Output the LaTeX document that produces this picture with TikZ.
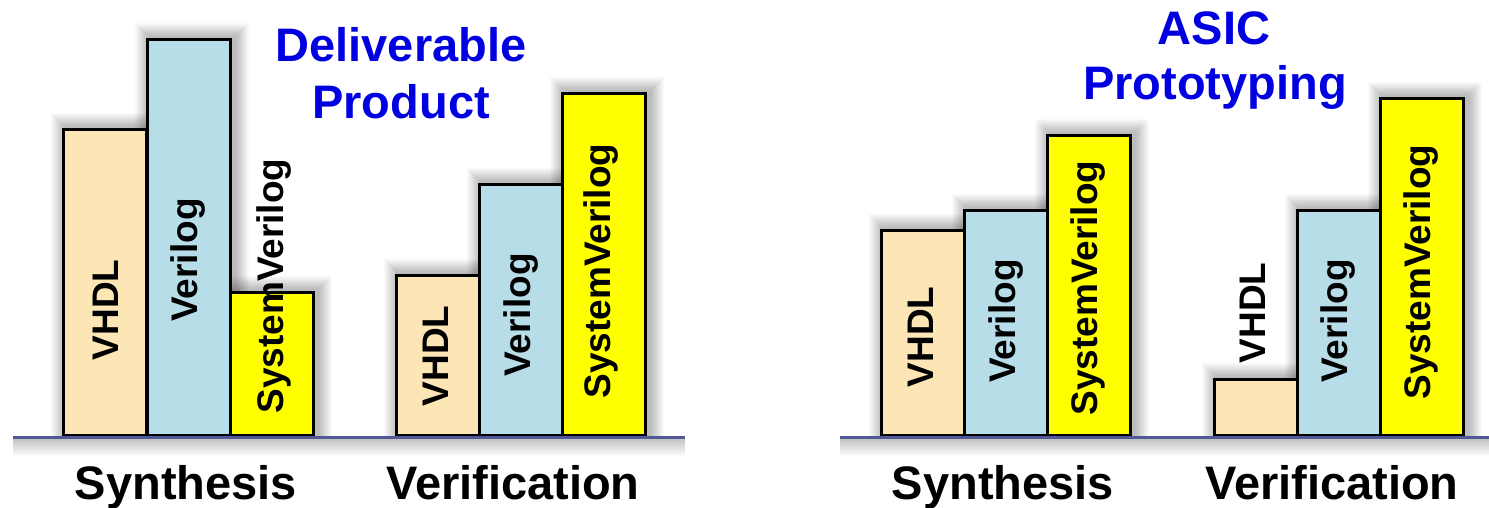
\documentclass[tikz,border=0pt]{standalone}
\usepackage{fontspec}
\setmainfont{Liberation Sans}
\definecolor{vhdlc}{RGB}{252,230,182}
\definecolor{verc}{RGB}{183,221,232}
\definecolor{svc}{RGB}{255,255,0}
\definecolor{titlec}{RGB}{0,0,225}
\definecolor{basec}{RGB}{80,88,150}
\pgfdeclarelayer{background}
\pgfsetlayers{background,main}
\begin{document}
\begin{tikzpicture}[x=1pt,y=-1pt,
  barbox/.style={draw=black, line width=2.6pt, anchor=south west, inner sep=0pt, minimum width=83pt},
  vhdlbar/.style={barbox, fill=vhdlc},
  verbar/.style={barbox, fill=verc},
  svbar/.style={barbox, fill=svc},
  glow/.style={fill=black, fill opacity=0.02},
  barlabel/.style={rotate=90, anchor=base, inner sep=0pt, font=\bfseries\fontsize{37}{37}\selectfont},
  axislabel/.style={anchor=base, inner sep=0pt, font=\bfseries\fontsize{47}{47}\selectfont},
  titlelabel/.style={anchor=base, inner sep=0pt, text=titlec, font=\bfseries\fontsize{47}{47}\selectfont},
  baseline/.style={draw=basec, line width=3pt}]
\useasboundingbox (0,0) rectangle (1489,508);

% ---- left chart: bars
\node[vhdlbar, minimum height=306pt] (ls1) at (62,437) {};
\node[verbar,  minimum height=396pt] (ls2) at (146,437) {};
\node[svbar,   minimum height=143pt] (ls3) at (229,437) {};
\node[vhdlbar, minimum height=160pt] (lv1) at (395,437) {};
\node[verbar,  minimum height=251pt] (lv2) at (478,437) {};
\node[svbar,   minimum height=342pt] (lv3) at (561,437) {};
% ---- right chart: bars
\node[vhdlbar, minimum height=205pt] (rs1) at (880,437) {};
\node[verbar,  minimum height=225pt] (rs2) at (963,437) {};
\node[svbar,   minimum height=300pt] (rs3) at (1046,437) {};
\node[vhdlbar, minimum height=56pt]  (rv1) at (1213,437) {};
\node[verbar,  minimum height=225pt] (rv2) at (1296,437) {};
\node[svbar,   minimum height=337pt] (rv3) at (1379,437) {};

% ---- base lines
\coordinate (la) at (13,437.5);
\coordinate (lb) at (685,437.5);
\coordinate (ra) at (840,437.5);
\coordinate (rb) at (1489,437.5);

\begin{pgfonlayer}{background}
  \fill[white] (0,0) rectangle (1489,508);
  \foreach \i in {1,...,12} {
    \fill[glow] (13,438) rectangle (685,{438+1.5*\i});
    \fill[glow] (840,438) rectangle (1489,{438+1.5*\i});
  }
  \foreach \b in {ls1,ls2,ls3,lv1,lv2,lv3,rs1,rs2,rs3,rv1,rv2,rv3}
    \foreach \i in {1,...,14}
      \fill[glow] ([xshift={3pt-\i*1pt}]\b.south west) rectangle ([xshift={3pt+\i*1pt}, yshift={1pt+\i*1pt}]\b.north east);
\end{pgfonlayer}

\draw[baseline] (la) -- (lb);
\draw[baseline] (ra) -- (rb);

% ---- bar labels
\node[barlabel] (tls1) at (118,310) {VHDL};
\node[barlabel] (tls2) at (197,260) {Verilog};
\node[barlabel] (tls3) at (283,286) {SystemVerilog};
\node[barlabel] (tlv1) at (448,356) {VHDL};
\node[barlabel] (tlv2) at (530,315) {Verilog};
\node[barlabel] (tlv3) at (610,271) {SystemVerilog};
\node[barlabel] (trs1) at (933,337) {VHDL};
\node[barlabel] (trs2) at (1015,321) {Verilog};
\node[barlabel] (trs3) at (1097,288) {SystemVerilog};
\node[barlabel] (trv1) at (1265,313) {VHDL};
\node[barlabel] (trv2) at (1347,321) {Verilog};
\node[barlabel] (trv3) at (1430,272) {SystemVerilog};

% ---- axis labels
\node[axislabel] (lsyn) at (186,499) {Synthesis};
\node[axislabel] (lver) at (513,499) {Verification};
\node[axislabel] (rsyn) at (1003,499) {Synthesis};
\node[axislabel] (rver) at (1332,499) {Verification};

% ---- titles
\node[titlelabel] (t1a) at (401,62) {Deliverable};
\node[titlelabel] (t1b) at (401,119) {Product};
\node[titlelabel] (t2a) at (1214,45) {ASIC};
\node[titlelabel] (t2b) at (1215,100) {Prototyping};
\end{tikzpicture}
\end{document}
